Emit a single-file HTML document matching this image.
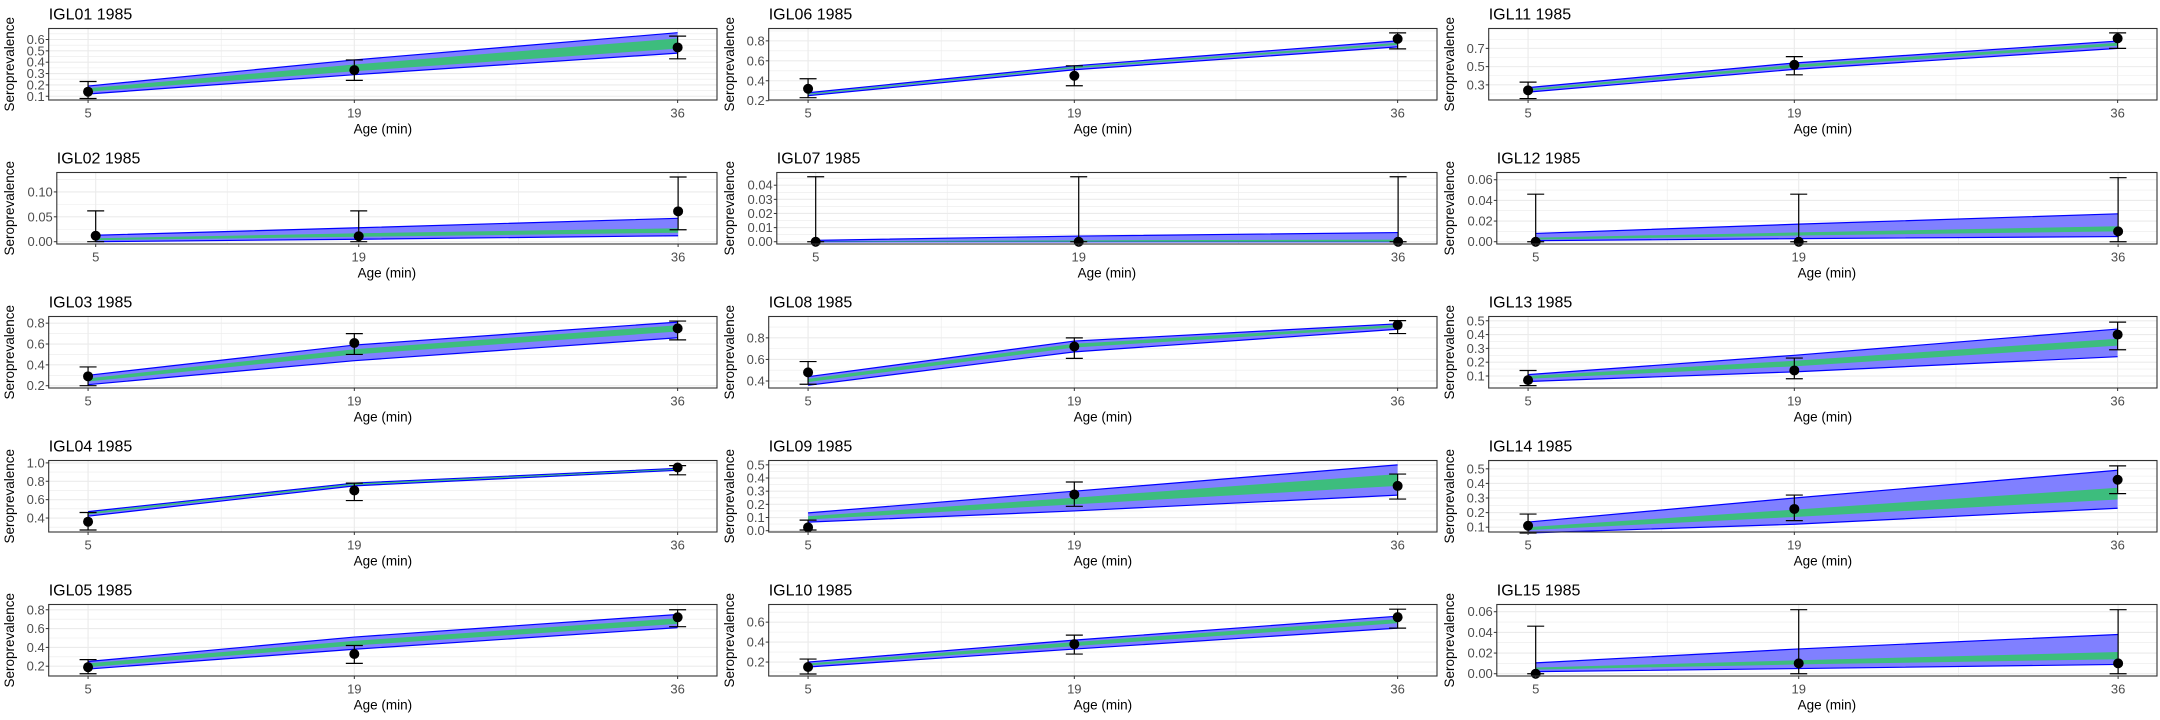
<!DOCTYPE html>
<html><head><meta charset="utf-8"><style>
html,body{margin:0;padding:0;background:#fff;}
svg{display:block;font-family:"Liberation Sans",sans-serif;}
</style></head><body>
<svg id="chart" width="2160" height="720" viewBox="0 0 2160 720" xmlns="http://www.w3.org/2000/svg"></svg>
<script>
const panelNames = ["IGL01","IGL02","IGL03","IGL04","IGL05","IGL06","IGL07","IGL08","IGL09","IGL10","IGL11","IGL12","IGL13","IGL14","IGL15"];
const ages = [5,19,36];
const xTicks = [5,19,36];
const pointVals = [[0.14,0.33,0.53],[0.012,0.011,0.061],[0.29,0.61,0.75],[0.36,0.70,0.95],[0.19,0.33,0.72],
 [0.32,0.45,0.82],[0,0,0],[0.48,0.72,0.92],[0.025,0.275,0.34],[0.15,0.38,0.65],
 [0.24,0.52,0.81],[0,0,0.01],[0.07,0.14,0.40],[0.11,0.225,0.425],[0,0.01,0.01]];
const errLo = [[0.08,0.24,0.43],[0,0,0.024],[0.20,0.50,0.64],[0.27,0.59,0.87],[0.12,0.23,0.62],
 [0.23,0.35,0.72],[0,0,0],[0.37,0.61,0.84],[0.005,0.185,0.24],[0.08,0.28,0.54],
 [0.15,0.41,0.70],[0,0,0],[0.03,0.08,0.29],[0.06,0.145,0.33],[0,0,0]];
const errHi = [[0.23,0.42,0.63],[0.062,0.062,0.13],[0.38,0.70,0.82],[0.46,0.78,0.97],[0.27,0.42,0.80],
 [0.42,0.55,0.88],[0.046,0.046,0.046],[0.58,0.80,0.96],[0.08,0.37,0.43],[0.23,0.47,0.73],
 [0.33,0.61,0.87],[0.046,0.046,0.062],[0.14,0.23,0.49],[0.19,0.32,0.52],[0.046,0.062,0.062]];
const outerLo = [[0.12,0.29,0.48],[0.0,0.005,0.012],[0.21,0.44,0.66],[0.42,0.75,0.92],[0.17,0.38,0.61],
 [0.25,0.51,0.74],[0,0,0],[0.36,0.67,0.88],[0.065,0.15,0.27],[0.15,0.33,0.54],
 [0.22,0.47,0.70],[0.001,0.003,0.005],[0.06,0.13,0.24],[0.06,0.12,0.23],[0.002,0.005,0.009]];
const outerHi = [[0.19,0.42,0.66],[0.013,0.028,0.047],[0.30,0.59,0.81],[0.47,0.78,0.94],[0.25,0.51,0.75],
 [0.28,0.55,0.80],[0.001,0.004,0.0065],[0.44,0.77,0.93],[0.135,0.30,0.50],[0.20,0.42,0.66],
 [0.27,0.54,0.78],[0.008,0.017,0.027],[0.11,0.25,0.44],[0.135,0.30,0.49],[0.0105,0.024,0.038]];
const innerLo = [[0.14,0.32,0.52],[0.003,0.01,0.018],[0.24,0.50,0.72],[0.44,0.76,0.925],[0.19,0.42,0.65],
 [0.26,0.525,0.76],[0,0,0],[0.39,0.71,0.90],[0.085,0.20,0.34],[0.165,0.36,0.59],
 [0.235,0.49,0.73],[0.002,0.006,0.010],[0.08,0.17,0.32],[0.08,0.17,0.29],[0.004,0.009,0.014]];
const innerHi = [[0.17,0.38,0.61],[0.007,0.017,0.027],[0.27,0.55,0.78],[0.46,0.775,0.935],[0.23,0.47,0.71],
 [0.27,0.54,0.78],[0.0003,0.001,0.0015],[0.42,0.745,0.92],[0.11,0.25,0.43],[0.185,0.40,0.63],
 [0.255,0.52,0.76],[0.004,0.009,0.015],[0.10,0.21,0.37],[0.10,0.22,0.37],[0.006,0.013,0.021]];
const yMin = [0.067,-0.0046,0.178,0.248,0.096,0.207,-0.0016,0.335,-0.01,0.06,0.134,-0.0022,0.013,0.067,-0.0022];
const yMax = [0.697,0.139,0.864,1.026,0.856,0.924,0.049,0.998,0.533,0.777,0.918,0.067,0.531,0.557,0.067];
const yTickLabels = [["0.1","0.2","0.3","0.4","0.5","0.6"],["0.00","0.05","0.10"],["0.2","0.4","0.6","0.8"],["0.4","0.6","0.8","1.0"],["0.2","0.4","0.6","0.8"],
 ["0.2","0.4","0.6","0.8"],["0.00","0.01","0.02","0.03","0.04"],["0.4","0.6","0.8"],["0.0","0.1","0.2","0.3","0.4","0.5"],["0.2","0.4","0.6"],
 ["0.3","0.5","0.7"],["0.00","0.02","0.04","0.06"],["0.1","0.2","0.3","0.4","0.5"],["0.1","0.2","0.3","0.4","0.5"],["0.00","0.02","0.04","0.06"]];

const NS = "http://www.w3.org/2000/svg";
const svg = document.getElementById("chart");
function mk(tag, attrs, parent){const e=document.createElementNS(NS,tag);for(const k in attrs)e.setAttribute(k,attrs[k]);(parent||svg).appendChild(e);return e;}

for (let p=0;p<panelNames.length;p++){
  const col=Math.floor(p/5), row=p%5;
  const ox=col*720, oy=row*144;
  const g=mk("g",{transform:`translate(${ox},${oy})`});
  
  
  const ticks=yTickLabels[p].map(Number);
  const wide=yTickLabels[p][0].length>3;
  const L=wide?56.8:48.7, R=717, T=28.5, B=100;
  const x0=2.93, x1=38.07;
  const X=v=>L+(v-x0)/(x1-x0)*(R-L);
  const Y=v=>B-(v-yMin[p])/(yMax[p]-yMin[p])*(B-T);
  // grid
  const step=ticks[1]-ticks[0];
  const minorY=[ticks[0]-step/2].concat(ticks.map(t=>t+step/2));
  minorY.forEach(v=>{const y=Y(v);if(y>T&&y<B){const l=mk("line",{x1:L,x2:R,y1:y,y2:y,stroke:"#ebebeb","stroke-width":0.6},g);
    }});
  [(xTicks[0]+xTicks[1])/2,(xTicks[1]+xTicks[2])/2].forEach(v=>{const l=mk("line",{x1:X(v),x2:X(v),y1:T,y2:B,stroke:"#ebebeb","stroke-width":0.6},g);
    });
  ticks.forEach(v=>{const l=mk("line",{x1:L,x2:R,y1:Y(v),y2:Y(v),stroke:"#ebebeb","stroke-width":1.1},g);
    });
  xTicks.forEach(v=>{const l=mk("line",{x1:X(v),x2:X(v),y1:T,y2:B,stroke:"#ebebeb","stroke-width":1.1},g);
    });
  // ribbons
  const band=(lo,hi,fill,stroke,name)=>{
    const pts=ages.map((a,i)=>X(a)+","+Y(hi[i])).concat(ages.slice().reverse().map((a,j)=>X(a)+","+Y(lo[2-j])));
    const poly=mk("polygon",{points:pts.join(" "),fill:fill,stroke:"none"},g);
    
    
    if(stroke){
      [hi,lo].forEach(arr=>{const pl=mk("polyline",{points:ages.map((a,i)=>X(a)+","+Y(arr[i])).join(" "),fill:"none",stroke:stroke,"stroke-width":1.2},g);
        });
    }
  };
  band(outerLo[p],outerHi[p],"#8080ff","#0000ff","outer-ribbon");
  band(innerLo[p],innerHi[p],"#3dbd7d",null,"inner-ribbon");
  // error bars & points
  ages.forEach((a,i)=>{
    const x=X(a);
    const eb=mk("path",{d:`M${x},${Y(errLo[p][i])}V${Y(errHi[p][i])}M${x-8.5},${Y(errLo[p][i])}H${x+8.5}M${x-8.5},${Y(errHi[p][i])}H${x+8.5}`,stroke:"#000","stroke-width":1.2,fill:"none"},g);
    
    
    const c=mk("circle",{cx:x,cy:Y(pointVals[p][i]),r:5,fill:"#000"},g);
    
    
  });
  // border
  const box=mk("rect",{x:L,y:T,width:R-L,height:B-T,fill:"none",stroke:"#333","stroke-width":1.1},g);
  
  
  // y ticks
  ticks.forEach((v,i)=>{
    const y=Y(v);
    const tk=mk("line",{x1:L-3,x2:L,y1:y,y2:y,stroke:"#333","stroke-width":1},g);
    
    const t=mk("text",{x:L-4,y:y+4.5,"text-anchor":"end","font-size":13,fill:"#4d4d4d"},g);
    t.textContent=yTickLabels[p][i];
    
  });
  xTicks.forEach(v=>{
    const x=X(v);
    const tk=mk("line",{x1:x,x2:x,y1:B,y2:B+3,stroke:"#333","stroke-width":1},g);
    
    const t=mk("text",{x:x,y:117.5,"text-anchor":"middle","font-size":13,fill:"#4d4d4d"},g);
    t.textContent=String(v);
    
  });
  const xt=mk("text",{x:(L+R)/2,y:133.5,"text-anchor":"middle","font-size":13.5,fill:"#000"},g);
  xt.textContent="Age (min)";
  
  const yt=mk("text",{transform:`translate(14,${(T+B)/2}) rotate(-90)`,"text-anchor":"middle","font-size":13.5,fill:"#000"},g);
  yt.textContent="Seroprevalence";
  
  const ti=mk("text",{x:L,y:19.5,"font-size":16,fill:"#000"},g);
  ti.textContent=panelNames[p]+" 1985";
  
}
</script>
</body></html>
